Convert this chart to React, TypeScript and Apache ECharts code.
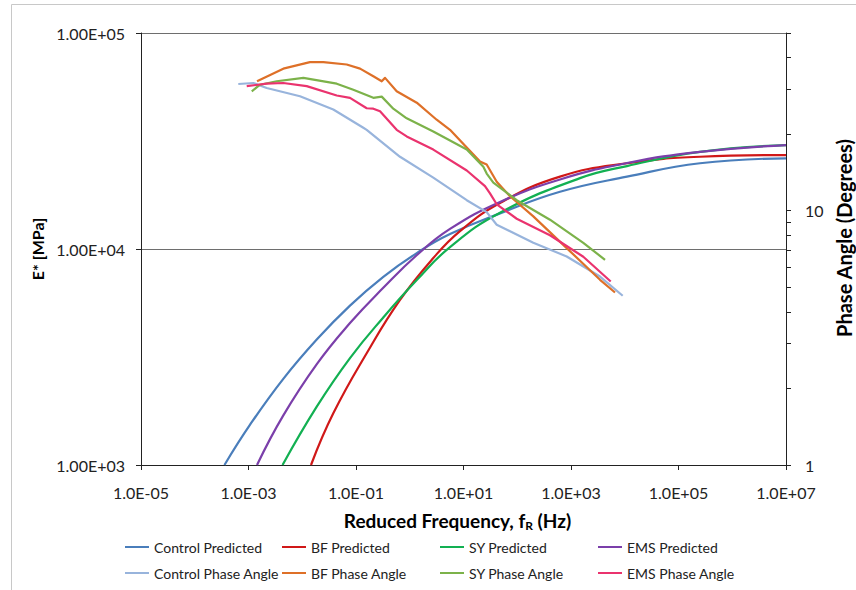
import React, { useEffect, useRef } from 'react';
import * as echarts from 'echarts';

// ---- Data (frequency in Hz, E* in MPa, phase angle in degrees) ----
const controlPredF = [3.57e-4, 1.07e-3, 4.44e-3, 0.0186, 0.0773, 0.318, 1.35, 5.61, 47.8, 624, 1.1e4, 2.51e5, 1e7];
const controlPredE = [1000, 1537, 2506, 3811, 5470, 7413, 9572, 11722, 14622, 18408, 21627, 24946, 26303];

const bfPredF = [0.01455, 0.0378, 0.158, 0.659, 2.74, 8.61, 47.8, 624, 1.1e4, 2.51e5, 1e7];
const bfPredE = [1000, 1734, 3289, 5808, 9078, 12106, 16331, 21627, 24946, 26730, 27227];

const syPredF = [4.3e-3, 0.0186, 0.0773, 0.322, 1.35, 5.61, 47.8, 1469, 1.1e4, 2.51e5, 1e7];
const syPredE = [1000, 1862, 3126, 4819, 7178, 10209, 14723, 21281, 24210, 28184, 30269];

const emsPredF = [1.44e-3, 4.39e-3, 0.0188, 0.0773, 0.318, 1.36, 5.61, 47.8, 624, 1.1e4, 2.51e5, 1e7];
const emsPredE = [1000, 1688, 2938, 4539, 6592, 9376, 12387, 16520, 20989, 25003, 28184, 30269];

const controlPhaseF = [6.46e-4, 1.23e-3, 2.18e-3, 9.08e-3, 0.0378, 0.137, 0.158, 0.659, 2.74, 11.5, 27.0, 41.5, 199, 832, 3467, 9162];
const controlPhase = [31.5, 31.8, 30.4, 28.2, 25.0, 21.2, 20.8, 16.3, 13.5, 11.0, 9.87, 8.81, 7.48, 6.61, 5.51, 4.63];

const bfPhaseF = [1.44e-3, 4.44e-3, 0.0139, 0.0247, 0.0671, 0.119, 0.21, 0.301, 0.347, 0.571, 1.35, 3.17, 5.61, 20.3, 27.0, 41.5, 73.3, 199, 832, 3467, 6592];
const bfPhase = [32.3, 36.2, 38.4, 38.4, 37.6, 36.2, 33.8, 32.3, 33.3, 29.5, 26.6, 22.8, 20.8, 15.6, 15.2, 13.0, 11.4, 9.5, 7.13, 5.35, 4.77];

const syPhaseF = [1.15e-3, 1.64e-3, 3.35e-3, 0.0105, 0.0438, 0.0891, 0.21, 0.301, 0.494, 0.877, 2.74, 11.5, 23.4, 27.0, 35.9, 97.7, 406, 1694, 4295];
const syPhase = [29.5, 31.3, 32.3, 33.3, 31.6, 29.9, 27.8, 28.1, 25.2, 23.1, 20.5, 17.4, 14.9, 14.0, 12.9, 11.0, 9.22, 7.48, 6.41];

const emsPhaseF = [9.27e-4, 2.18e-3, 4.44e-3, 0.0121, 0.0438, 0.0773, 0.158, 0.21, 0.28, 0.571, 0.877, 2.74, 11.5, 25.1, 31.1, 41.5, 97.7, 406, 1694, 5483];
const emsPhase = [30.9, 31.6, 31.8, 30.9, 28.4, 27.8, 25.3, 25.2, 24.6, 20.8, 19.6, 17.4, 14.4, 12.5, 11.7, 10.6, 9.3, 8.01, 6.59, 5.27];

// ---- Axes ----
const xMin = 1e-5;
const xMax = 1e7;
const xTickValues = [1e-5, 1e-3, 1e-1, 1e1, 1e3, 1e5, 1e7];
const xTickLabels = ['1.0E-05', '1.0E-03', '1.0E-01', '1.0E+01', '1.0E+03', '1.0E+05', '1.0E+07'];

const eMin = 1e3;
const eMax = 1e5;
const eTickValues = [1e3, 1e4, 1e5];
const eTickLabels = ['1.00E+03', '1.00E+04', '1.00E+05'];

const phaseMin = 1;
const phaseMax = 50;
const phaseLabelValues = [1, 10];
const phaseLabelTexts = ['1', '10'];
const phaseMinorTicks = [1, 2, 3, 4, 5, 6, 7, 8, 9, 10, 20, 30, 40, 50];

const seriesNames = [
  'Control Predicted', 'BF Predicted', 'SY Predicted', 'EMS Predicted',
  'Control Phase Angle', 'BF Phase Angle', 'SY Phase Angle', 'EMS Phase Angle',
];
const seriesColors = [
  '#4A7EBB', '#D01818', '#12B052', '#7B3FAA',
  '#98B4DC', '#DE7028', '#7CB24A', '#EA336E',
];

const L = Math.log10;
const FONT = 'Lato, "Liberation Sans", sans-serif';

function zip(f: number[], v: number[]) {
  return f.map((x, i) => [L(x), L(v[i])]);
}

function lookup(values: number[], labels: string[], v: number) {
  const i = values.findIndex((t) => Math.abs(L(t) - v) < 1e-6);
  return i >= 0 ? labels[i] : '';
}

export default function App() {
  const ref = useRef<HTMLDivElement>(null);

  useEffect(() => {
    if (!ref.current) return;
    const chart = echarts.init(ref.current, undefined, { renderer: 'svg' });

    const datasets = [
      zip(controlPredF, controlPredE),
      zip(bfPredF, bfPredE),
      zip(syPredF, syPredE),
      zip(emsPredF, emsPredE),
      zip(controlPhaseF, controlPhase),
      zip(bfPhaseF, bfPhase),
      zip(syPhaseF, syPhase),
      zip(emsPhaseF, emsPhase),
    ];

    const series = datasets.map((d, i) => ({
      name: seriesNames[i],
      type: 'line',
      yAxisIndex: i < 4 ? 0 : 1,
      data: d,
      showSymbol: false,
      smooth: i < 4 ? 0.45 : false,
      color: seriesColors[i],
      lineStyle: { width: 2.2, color: seriesColors[i], join: 'round' },
      itemStyle: { color: seriesColors[i] },
      z: 2,
    }));

    const legendCols = [125, 282, 440, 598];
    const legendRows = [540, 566];
    const legends = seriesNames.map((n, i) => ({
      data: [n],
      left: legendCols[i % 4],
      top: legendRows[Math.floor(i / 4)],
      padding: 0,
      icon: 'rect',
      itemWidth: 24,
      itemHeight: 2,
      textStyle: { fontFamily: FONT, fontSize: 14, color: '#222' },
    }));

    const labelStyle = { fontFamily: FONT, fontSize: 16, color: '#222' };

    chart.setOption({
      animation: false,
      backgroundColor: '#fff',
      grid: {
        left: 141, right: 70, top: 33, bottom: 125,
        containLabel: false,
        outerBoundsMode: 'none',
      },
      legend: legends,
      graphic: [
        {
          type: 'rect',
          silent: true,
          shape: { x: 11.5, y: 4.5, width: 900, height: 700 },
          style: { fill: 'none', stroke: '#c8c8c8', lineWidth: 1 },
        },
      ],
      xAxis: {
        type: 'value',
        min: L(xMin),
        max: L(xMax),
        axisLine: { show: true, onZero: false, lineStyle: { color: '#222', width: 1 } },
        axisTick: { show: true, length: 5, customValues: xTickValues.map(L), lineStyle: { color: '#222' } },
        axisLabel: {
          ...labelStyle,
          margin: 19,
          customValues: xTickValues.map(L),
          formatter: (v: number) => lookup(xTickValues, xTickLabels, v),
        },
        splitLine: { show: false },
        name: 'Reduced Frequency, f{sub|R} (Hz)',
        nameLocation: 'middle',
        nameGap: 45,
        nameTextStyle: {
          fontFamily: FONT,
          fontSize: 19,
          fontWeight: 'bold',
          color: '#000',
          padding: [0, 12, 0, 0],
          rich: {
            sub: { fontFamily: FONT, fontSize: 12, fontWeight: 'bold', color: '#000', verticalAlign: 'bottom', padding: [9, 0, 0, 0] },
          },
        },
      },
      yAxis: [
        {
          type: 'value',
          min: L(eMin),
          max: L(eMax),
          position: 'left',
          axisLine: { show: true, onZero: false, lineStyle: { color: '#222', width: 1 } },
          axisTick: { show: true, length: 5, customValues: eTickValues.map(L), lineStyle: { color: '#222' } },
          axisLabel: {
            ...labelStyle,
            margin: 16,
            customValues: eTickValues.map(L),
            formatter: (v: number) => lookup(eTickValues, eTickLabels, v),
          },
          splitLine: { show: true, lineStyle: { color: '#6e6e6e', width: 1 } },
          name: 'E* [MPa]',
          nameLocation: 'middle',
          nameGap: 90,
          nameRotate: 90,
          nameTextStyle: { fontFamily: FONT, fontSize: 16, fontWeight: 'bold', color: '#000' },
        },
        {
          type: 'value',
          min: L(phaseMin),
          max: L(phaseMax),
          position: 'right',
          axisLine: { show: true, onZero: false, lineStyle: { color: '#222', width: 1 } },
          axisTick: { show: true, length: 5, customValues: phaseMinorTicks.map(L), lineStyle: { color: '#222' } },
          axisLabel: {
            ...labelStyle,
            margin: 19,
            customValues: phaseLabelValues.map(L),
            formatter: (v: number) => lookup(phaseLabelValues, phaseLabelTexts, v),
          },
          splitLine: { show: false },
          name: 'Phase Angle (Degrees)',
          nameLocation: 'middle',
          nameGap: 41,
          nameRotate: 90,
          nameTextStyle: {
            fontFamily: FONT, fontSize: 20, fontWeight: 'bold', color: '#000',
            padding: [0, 0, 0, 22],
          },
        },
      ],
      series,
    });

    return () => chart.dispose();
  }, []);

  return (
    <div
      ref={ref}
      style={{ position: 'fixed', left: 0, top: 0, width: 856, height: 590, background: '#fff' }}
    />
  );
}
